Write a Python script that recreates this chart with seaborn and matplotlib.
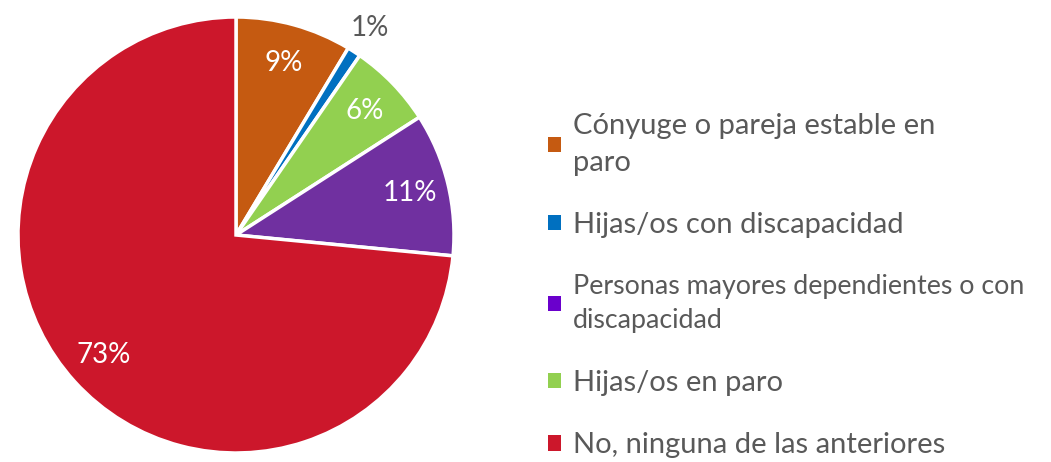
import seaborn as sns
import matplotlib.pyplot as plt
from matplotlib.patches import Patch

sns.set_theme(style='white')
plt.rcParams['font.family'] = ['Lato', 'DejaVu Sans']

# orden de las porciones (desde arriba, sentido horario)
categorias = ['Cónyuge o pareja estable en\nparo', 'Hijas/os con discapacidad',
              'Hijas/os en paro', 'Personas mayores dependientes o con\ndiscapacidad',
              'No, ninguna de las anteriores']
valores = [8.6, 1.0, 6.3, 10.6, 73.4]
etiquetas = ['9%', '1%', '6%', '11%', '73%']
colores = ['#C55A11', '#0070C0', '#92D050', '#7030A0', '#CC172B']

# orden de la leyenda
orden_leyenda = [0, 1, 3, 2, 4]
colores_leyenda = ['#C55A11', '#0070C0', '#6A00CC', '#92D050', '#CC172B']

fig = plt.figure(figsize=(10.51, 4.62), dpi=100)
ax = fig.add_axes([18 / 1051, 9 / 462, 436 / 1051, 436 / 462])

it = iter(etiquetas)
wedges, textos, autotextos = ax.pie(
    valores, colors=colores, startangle=90, counterclock=False,
    autopct=lambda p: next(it), pctdistance=0.82,
    wedgeprops=dict(edgecolor='white', linewidth=2.5),
    textprops=dict(color='white', fontsize=20))

# la etiqueta del 1% va fuera, en gris
x, y = autotextos[1].get_position()
autotextos[1].set_position((x * 1.13 / 0.82, y * 1.13 / 0.82))
autotextos[1].set_color('#595959')

ax.set_xlim(-1, 1)
ax.set_ylim(-1, 1)
ax.set_aspect('equal')

handles = [Patch(facecolor=colores_leyenda[k], edgecolor='none') for k in range(5)]
nombres = [categorias[i] for i in orden_leyenda]
leg = fig.legend(handles, nombres, loc='upper left', bbox_to_anchor=(548 / 1051, 1 - 113 / 462),
                 frameon=False, fontsize=21, labelcolor='#595959', handlelength=0.45,
                 handleheight=0.45, handletextpad=0.4, labelspacing=1.25,
                 borderpad=0, borderaxespad=0)
for t in leg.get_texts():
    t.set_linespacing(1.5)
leg.get_texts()[2].set_fontsize(19.3)
leg.get_texts()[2].set_linespacing(1.45)

plt.savefig('out.png', dpi=100)
